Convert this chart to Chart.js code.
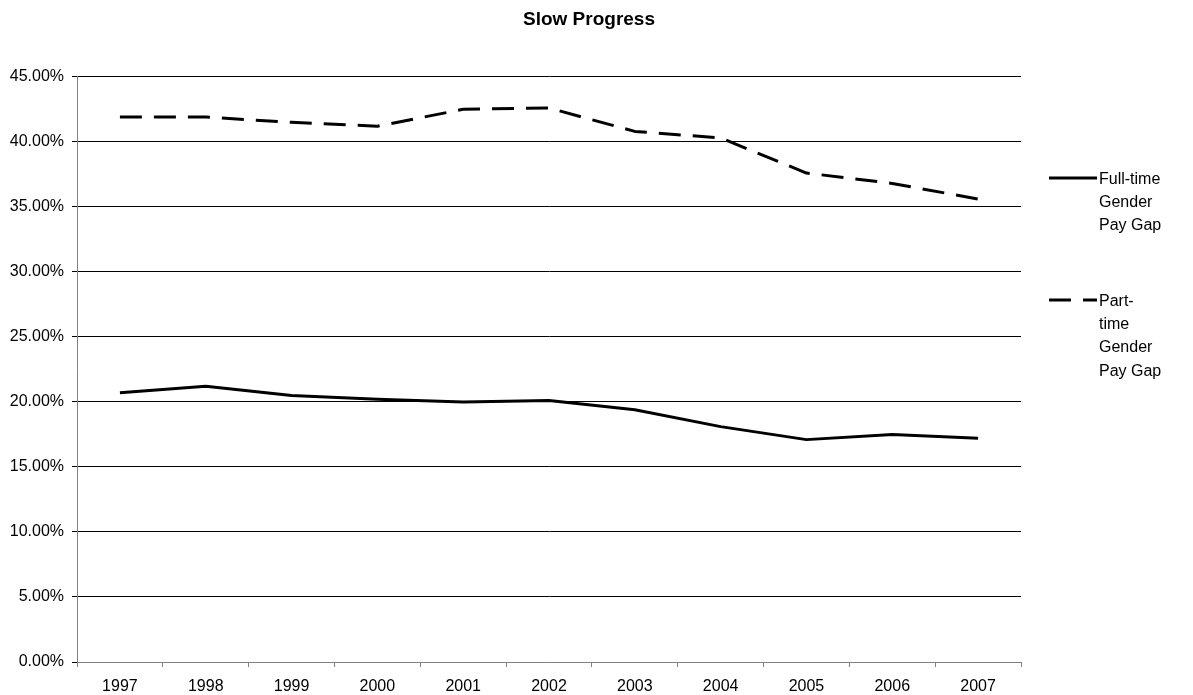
<!DOCTYPE html>
<html>
<head>
<meta charset="utf-8">
<title>Slow Progress</title>
<script src="https://cdn.jsdelivr.net/npm/chart.js@4/dist/chart.umd.min.js"></script>
<style>
  body{margin:0;background:#fff;}
  #wrap{width:1193px;height:695px;}
</style>
</head>
<body>
<div id="wrap"><canvas id="payGap" width="1193" height="695"></canvas></div>
<script>
const years = ['1997','1998','1999','2000','2001','2002','2003','2004','2005','2006','2007'];
const fullTimeGap = [20.7, 21.2, 20.5, 20.2, 20.0, 20.1, 19.4, 18.1, 17.1, 17.5, 17.2];
const partTimeGap = [41.9, 41.9, 41.5, 41.2, 42.5, 42.6, 40.8, 40.3, 37.6, 36.8, 35.6];
const fullTimeLabel = ['Full-time', 'Gender', 'Pay Gap'];
const partTimeLabel = ['Part-', 'time', 'Gender', 'Pay Gap'];

const font = "'Liberation Sans', Arial, sans-serif";
const dash = [22, 12];

// legend on the right, wrapped text like the old spreadsheet chart
const sideLegend = {
  id: 'sideLegend',
  afterDraw(chart){
    let ctx = chart.ctx;
    let items = [
      {lines: fullTimeLabel, y: 178, ds: chart.data.datasets[0]},
      {lines: partTimeLabel, y: 300, ds: chart.data.datasets[1]}
    ];
    ctx.save();
    items.forEach(it=>{
      ctx.beginPath();
      ctx.lineWidth = it.ds.borderWidth;
      ctx.strokeStyle = it.ds.borderColor;
      ctx.setLineDash(it.ds.borderDash || []);
      ctx.moveTo(1049, it.y);
      ctx.lineTo(1097, it.y);
      ctx.stroke();
      ctx.setLineDash([]);
      ctx.fillStyle = '#000';
      ctx.font = '16px ' + font;
      ctx.textBaseline = 'alphabetic';
      it.lines.forEach((t, i)=>{
        ctx.fillText(t, 1099, it.y + 6 + i * 23.2);
      });
    });
    ctx.restore();
  }
};

new Chart(document.getElementById('payGap'), {
  type: 'line',
  data: {
    labels: years,
    datasets: [
      {
        label: 'Full-time Gender Pay Gap',
        data: fullTimeGap,
        borderColor: '#000',
        borderWidth: 3,
        borderJoinStyle: 'round',
        pointRadius: 0,
        tension: 0
      },
      {
        label: 'Part-time Gender Pay Gap',
        data: partTimeGap,
        borderColor: '#000',
        borderWidth: 3,
        borderDash: dash,
        borderJoinStyle: 'round',
        pointRadius: 0,
        tension: 0
      }
    ]
  },
  options: {
    responsive: false,
    animation: false,
    layout: {padding: {left: 0, right: 15, top: 0, bottom: 0}},
    plugins: {
      legend: {display: false},
      tooltip: {enabled: false},
      title: {
        display: true,
        text: 'Slow Progress',
        color: '#000',
        font: {family: font, size: 19, weight: 'bold', lineHeight: 1.2},
        padding: {top: 8, bottom: 46}
      }
    },
    scales: {
      x: {
        offset: true,
        grid: {offset: true, drawOnChartArea: false, drawTicks: true, tickLength: 5, color: '#808080'},
        border: {color: '#808080'},
        ticks: {color: '#000', padding: 10, maxRotation: 0, font: {family: font, size: 16}},
        afterFit(scale){ scale.height = 33; }
      },
      y: {
        min: 0,
        max: 45,
        ticks: {
          stepSize: 5,
          color: '#000',
          padding: 8,
          font: {family: font, size: 16},
          callback: v => v.toFixed(2) + '%'
        },
        grid: {
          color: ctx => ctx.index === 0 ? '#808080' : '#000',
          tickColor: '#000',
          tickLength: 5
        },
        border: {color: '#808080'},
        afterFit(scale){ scale.width = 77; }
      },
      side: {
        position: 'right',
        display: true,
        grid: {display: false},
        border: {display: false},
        ticks: {display: false},
        afterFit(scale){ scale.width = 157; }
      }
    }
  },
  plugins: [sideLegend]
});
</script>
</body>
</html>
